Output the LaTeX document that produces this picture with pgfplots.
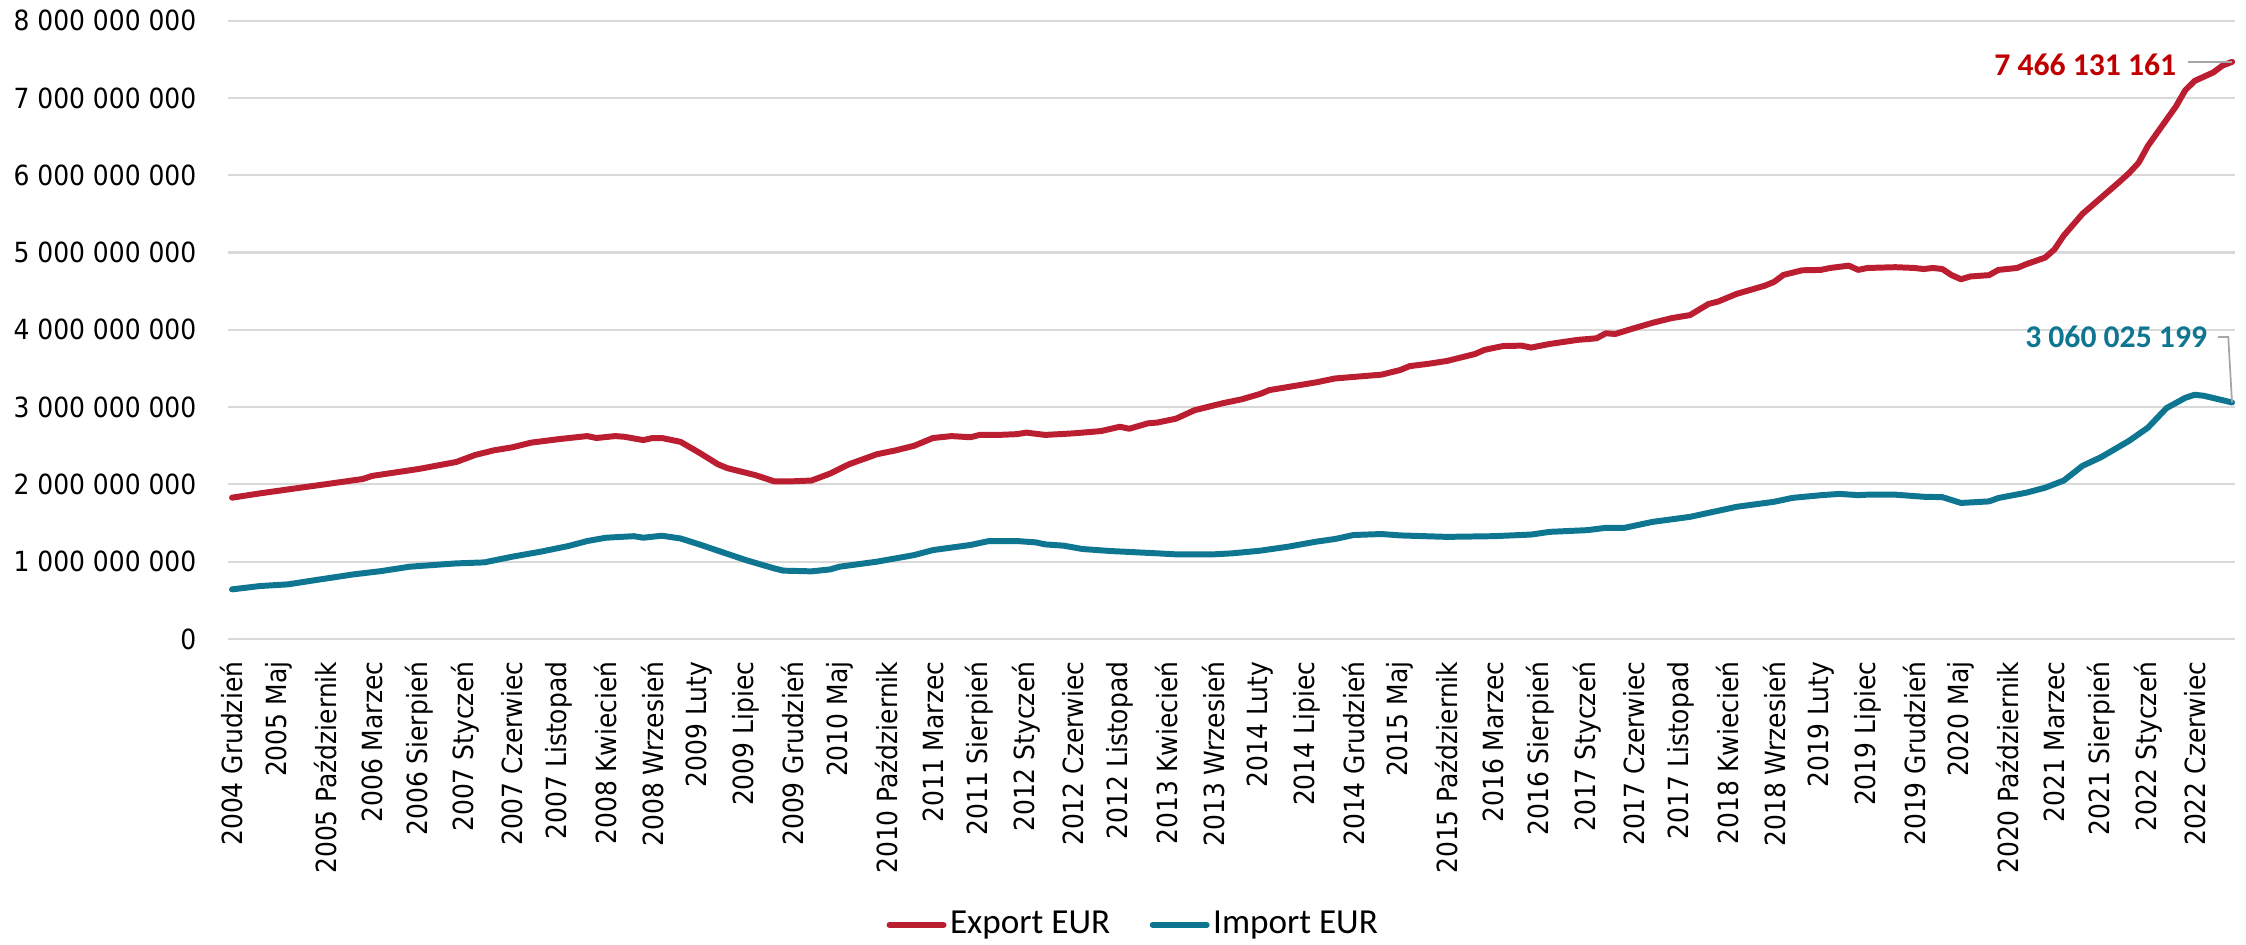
\documentclass[border=0pt]{standalone}
\usepackage{pgfplots}
\pgfplotsset{compat=1.18}
\usepackage{pgfplotstable}
\usepackage{fontspec}
\setmainfont{Carlito}
\newfontfamily\tickfont{DejaVu Sans Condensed}
\definecolor{expred}{RGB}{187,30,48}
\definecolor{impteal}{RGB}{15,118,145}
\definecolor{lblred}{RGB}{192,0,0}
\definecolor{gridgray}{RGB}{217,217,217}
\definecolor{leadgray}{RGB}{166,166,166}

% month index (0 = 2004 Grudzien), value in billions EUR
\pgfplotstableread{
i v
0 1.828
3 1.884
6 1.935
9 1.985
14 2.07
15 2.11
20 2.20
24 2.29
26 2.38
28 2.44
30 2.48
32 2.54
35 2.586
38 2.625
39 2.60
41 2.625
42 2.616
44 2.573
45 2.60
46 2.60
48 2.55
50 2.41
52 2.26
53 2.21
56 2.12
58 2.04
60 2.04
62 2.05
64 2.14
66 2.26
69 2.39
71 2.44
73 2.50
75 2.60
77 2.625
79 2.61
80 2.64
82 2.64
84 2.65
85 2.67
87 2.64
90 2.66
93 2.69
95 2.746
96 2.72
98 2.79
99 2.80
101 2.85
103 2.96
106 3.05
108 3.10
110 3.17
111 3.22
114 3.28
116 3.32
118 3.37
122 3.41
123 3.42
125 3.48
126 3.53
128 3.56
130 3.597
133 3.687
134 3.74
136 3.79
138 3.795
139 3.77
141 3.817
144 3.87
146 3.89
147 3.955
148 3.946
150 4.02
152 4.09
154 4.15
156 4.19
158 4.335
159 4.365
161 4.465
164 4.57
165 4.62
166 4.71
168 4.77
170 4.775
171 4.80
173 4.83
174 4.775
175 4.80
178 4.81
180 4.80
181 4.786
182 4.80
183 4.786
184 4.707
185 4.654
186 4.69
188 4.707
189 4.775
191 4.80
192 4.85
194 4.934
195 5.04
196 5.22
198 5.50
200 5.71
202 5.92
203 6.03
204 6.16
205 6.38
207 6.72
208 6.89
209 7.10
210 7.22
212 7.33
213 7.42
214 7.466131161
}\exportdata

\pgfplotstableread{
i v
0 0.642
3 0.685
6 0.707
9 0.763
13 0.836
16 0.879
19 0.935
24 0.978
27 0.991
30 1.065
33 1.129
36 1.203
38 1.267
40 1.31
43 1.33
44 1.31
46 1.336
48 1.30
50 1.224
52 1.142
55 1.02
58 0.914
59 0.884
62 0.875
64 0.90
65 0.935
69 1.0
73 1.086
75 1.15
79 1.216
81 1.267
84 1.267
86 1.25
87 1.224
89 1.207
91 1.164
94 1.138
99 1.108
101 1.095
105 1.095
107 1.108
110 1.142
113 1.194
116 1.259
118 1.293
120 1.345
123 1.358
125 1.34
130 1.321
135 1.33
139 1.351
141 1.386
145 1.408
147 1.438
149 1.438
152 1.515
156 1.58
159 1.658
161 1.71
165 1.775
167 1.826
170 1.86
172 1.877
174 1.861
175 1.867
178 1.867
181 1.84
183 1.835
185 1.76
188 1.78
189 1.824
192 1.893
194 1.957
196 2.05
198 2.24
200 2.353
203 2.565
205 2.734
207 2.988
209 3.12
210 3.16
211 3.146
214 3.060025199
}\importdata

\begin{document}
\begin{tikzpicture}
\useasboundingbox (0,0) rectangle (22.46cm,9.45cm);
\begin{axis}[
  at={(2.28cm,3.06cm)}, anchor=south west,
  scale only axis,
  width=20.07cm, height=6.184cm,
  xmin=-0.43, xmax=214.32,
  ymin=0, ymax=8,
  clip=false,
  axis line style={draw=none},
  major tick length=0pt,
  tick style={draw=none},
  ymajorgrids,
  grid style={draw=gridgray, line width=0.6pt},
  ytick={0,1,2,3,4,5,6,7,8},
  yticklabels={0,1 000 000 000,2 000 000 000,3 000 000 000,4 000 000 000,5 000 000 000,6 000 000 000,7 000 000 000,8 000 000 000},
  yticklabel style={font=\tickfont\fontsize{7.9}{9}\selectfont, anchor=east, inner sep=0pt, xshift=-0.31cm},
  xtick={0,5,...,210},
  xticklabels={2004 Grudzień,2005 Maj,2005 Październik,2006 Marzec,2006 Sierpień,2007 Styczeń,2007 Czerwiec,2007 Listopad,2008 Kwiecień,2008 Wrzesień,2009 Luty,2009 Lipiec,2009 Grudzień,2010 Maj,2010 Październik,2011 Marzec,2011 Sierpień,2012 Styczeń,2012 Czerwiec,2012 Listopad,2013 Kwiecień,2013 Wrzesień,2014 Luty,2014 Lipiec,2014 Grudzień,2015 Maj,2015 Październik,2016 Marzec,2016 Sierpień,2017 Styczeń,2017 Czerwiec,2017 Listopad,2018 Kwiecień,2018 Wrzesień,2019 Luty,2019 Lipiec,2019 Grudzień,2020 Maj,2020 Październik,2021 Marzec,2021 Sierpień,2022 Styczeń,2022 Czerwiec},
  xticklabel style={yshift=-0.22cm, rotate=90, anchor=east, inner sep=0pt, font=\tickfont\fontsize{7.9}{9}\selectfont},
  legend columns=2,
  legend style={at={(0.4514,-0.4625)}, anchor=center, draw=none, fill=none,
    font=\fontsize{10}{12}\selectfont, inner sep=0pt,
    nodes={inner sep=1pt},
    /tikz/every even column/.append style={column sep=0.36cm}},
  legend image code/.code={\draw[#1, line width=1.7pt, line cap=round] (0cm,0cm) -- (0.54cm,0cm);},
]
\addplot[expred, line width=1.7pt, line cap=round, line join=round] table[x=i, y=v] {\exportdata};
\addlegendentry{Export EUR}
\addplot[impteal, line width=1.7pt, line cap=round, line join=round] table[x=i, y=v] {\importdata};
\addlegendentry{Import EUR}

\draw[leadgray, line width=0.5pt] (axis cs:209.3,7.466) -- (axis cs:214,7.466);
\node[anchor=east, inner sep=0pt, text=lblred, font=\bfseries\fontsize{9}{11}\selectfont] at (axis cs:208.1,7.432) {7 466 131 161};
\draw[leadgray, line width=0.5pt] (axis cs:212.5,3.907) -- (axis cs:213.6,3.907) -- (axis cs:214,3.06);
\node[anchor=east, inner sep=0pt, text=impteal, font=\bfseries\fontsize{9}{11}\selectfont] at (axis cs:211.4,3.907) {3 060 025 199};
\end{axis}
\end{tikzpicture}
\end{document}
